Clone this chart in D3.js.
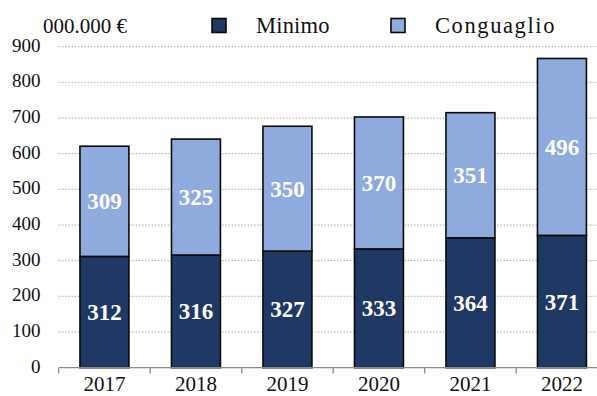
<!DOCTYPE html>
<html>
<head>
<meta charset="utf-8">
<script src="https://cdn.jsdelivr.net/npm/d3@7"></script>
<style>
  html, body { margin: 0; padding: 0; background: #fff; }
  svg { display: block; }
  text { font-family: "Liberation Serif", "Times New Roman", serif; fill: #111; }
</style>
</head>
<body>
<svg id="chart" width="597" height="396"></svg>
<script>
// Anni e componenti (migliaia di euro)
const years = ["2017", "2018", "2019", "2020", "2021", "2022"];
const minimo = [312, 316, 327, 333, 364, 371];
const conguaglio = [309, 325, 350, 370, 351, 496];
const yTicks = [0, 100, 200, 300, 400, 500, 600, 700, 800, 900];
const seriesNames = ["Minimo", "Conguaglio"];
const seriesColors = ["#203864", "#8faadc"];
const unitLabel = "000.000 €";

const svg = d3.select("#chart");
const W = 597;

const x = d3.scaleBand()
  .domain(years)
  .range([58.7, 607.7])
  .paddingInner(0.465)
  .paddingOuter(0.2325);

const y = d3.scaleLinear().domain([0, 900]).range([367.7, 46.7]);

// griglia tratteggiata
svg.append("g")
  .selectAll("line")
  .data(yTicks.filter(d => d > 0))
  .join("line")
  .attr("x1", 58.7).attr("x2", W)
  .attr("y1", d => y(d)).attr("y2", d => y(d))
  .attr("stroke", "#bdbdbd")
  .attr("stroke-width", 1.3)
  .attr("stroke-dasharray", "1.6,1.6");

// etichette asse y
svg.append("g")
  .selectAll("text")
  .data(yTicks)
  .join("text")
  .attr("x", 40.5)
  .attr("y", d => y(d) + 5)
  .attr("text-anchor", "end")
  .style("font-size", "19px")
  .text(d => d);

// dati impilati
const rows = years.map((yr, i) => ({ year: yr, Minimo: minimo[i], Conguaglio: conguaglio[i] }));
const stack = d3.stack().keys(seriesNames)(rows);

const layers = svg.append("g")
  .selectAll("g")
  .data(stack)
  .join("g")
  .attr("fill", (d, i) => seriesColors[i]);

layers.selectAll("rect")
  .data(d => d)
  .join("rect")
  .attr("x", d => x(d.data.year))
  .attr("width", x.bandwidth())
  .attr("y", d => y(d[1]))
  .attr("height", d => y(d[0]) - y(d[1]))
  .attr("stroke", "#0a0a0a")
  .attr("stroke-width", 1.6);

// valori nelle barre
layers.selectAll("text")
  .data(d => d.map(v => ({ v, key: d.key })))
  .join("text")
  .attr("x", d => x(d.v.data.year) + x.bandwidth() / 2)
  .attr("y", d => y((d.v[0] + d.v[1]) / 2) + 8)
  .attr("text-anchor", "middle")
  .style("font-size", "23px")
  .style("font-weight", "bold")
  .style("fill", "#ffffff")
  .text(d => d.v.data[d.key]);

// asse x
const axisG = svg.append("g");
axisG.append("line")
  .attr("x1", 58.7).attr("x2", W)
  .attr("y1", 367.7).attr("y2", 367.7)
  .attr("stroke", "#8c8c8c").attr("stroke-width", 1.3);
const bounds = years.map(yr => x(yr) - x.step() * x.paddingInner() / 2);
axisG.selectAll("line.tick")
  .data(bounds)
  .join("line")
  .attr("class", "tick")
  .attr("x1", d => d).attr("x2", d => d)
  .attr("y1", 367.7).attr("y2", 373.5)
  .attr("stroke", "#8c8c8c").attr("stroke-width", 1.3);
axisG.selectAll("text")
  .data(years)
  .join("text")
  .attr("x", d => x(d) + x.bandwidth() / 2)
  .attr("y", 391)
  .attr("text-anchor", "middle")
  .style("font-size", "21px")
  .text(d => d);

// unità di misura
svg.append("text")
  .attr("x", 43).attr("y", 33)
  .style("font-size", "21px")
  .text(unitLabel);

// legenda
const legendX = [212, 391];
const legendSpacing = ["0.2px", "1.6px"];
const legend = svg.append("g")
  .selectAll("g")
  .data(seriesNames)
  .join("g")
  .attr("transform", (d, i) => `translate(${legendX[i]},18.5)`);
legend.append("rect")
  .attr("width", 14).attr("height", 14)
  .attr("fill", (d, i) => seriesColors[i])
  .attr("stroke", "#0a0a0a").attr("stroke-width", 1.6);
legend.append("text")
  .attr("x", 44).attr("y", 14.8)
  .style("font-size", "22.5px")
  .style("letter-spacing", (d, i) => legendSpacing[i])
  .text(d => d);
</script>
</body>
</html>
